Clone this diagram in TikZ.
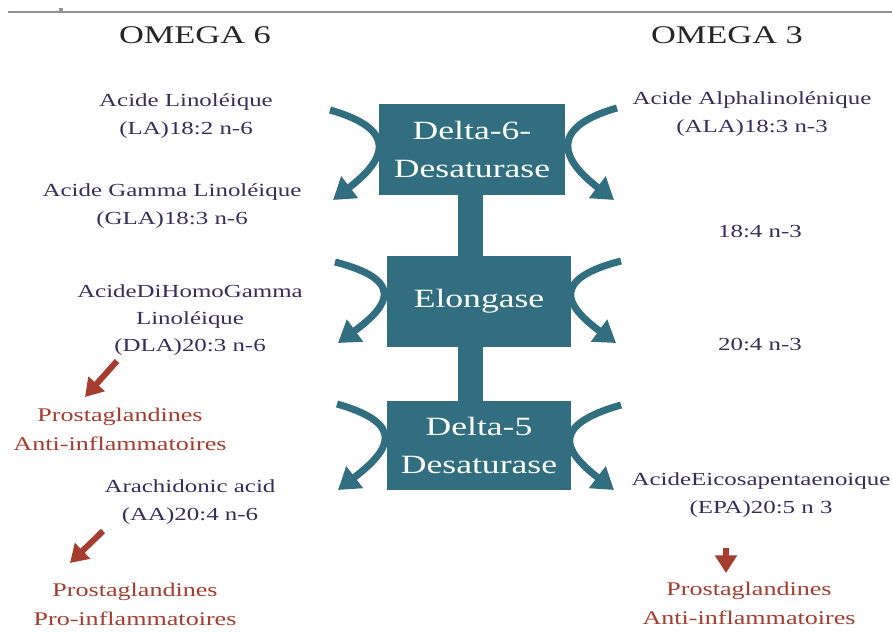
\documentclass[tikz,border=0pt]{standalone}
\usepackage{fontspec}
\setmainfont[FakeStretch=1.35]{Liberation Serif}
\usepackage{xcolor}
\usepackage{tikz}
\usetikzlibrary{arrows.meta}
\definecolor{enzteal}{RGB}{48,110,128}
\definecolor{acidink}{RGB}{55,45,90}
\definecolor{pgred}{RGB}{165,60,45}
\definecolor{rulegray}{RGB}{150,145,145}

\begin{document}
\begin{tikzpicture}[x=0.02cm, y=-0.02cm,
  enzyme/.style={fill=enzteal, text=white, inner sep=0pt, align=center, font=\fontsize{15}{22}\selectfont},
  acid/.style={text=acidink, align=center, font=\fontsize{10.5}{15.5}\selectfont},
  prosta/.style={text=pgred, align=center, font=\fontsize{11}{16.5}\selectfont},
  omega/.style={text=black!85, font=\fontsize{14.5}{17}\selectfont},
  flow/.style={enzteal, line width=4pt, -{Triangle[length=12pt, width=15pt]}},
  toward/.style={pgred, line width=3.4pt, -{Triangle[length=10pt, width=12pt]}},
  stem/.style={enzteal, line width=0.5cm}]
\useasboundingbox (0,0) rectangle (892,644);
\draw[rulegray, line width=1.2pt] (8,12) -- (892,12);
\draw[rulegray, line width=2pt] (61,8) -- (61,12);

\node[omega] (om6) at (195,35) {OMEGA 6};
\node[omega] (om3) at (727,35) {OMEGA 3};

\node[enzyme, minimum width=3.72cm, minimum height=1.82cm] (d6) at (472,149.5) {Delta-6-\\Desaturase};
\node[enzyme, minimum width=3.68cm, minimum height=1.82cm] (elong) at (479,301.5) {Elongase};
\node[enzyme, minimum width=3.68cm, minimum height=1.78cm] (d5) at (479,445.5) {Delta-5\\Desaturase};
\draw[stem] ([xshift=-0.03cm]d6.south) -- ([xshift=-0.03cm]d6.south |- elong.north);
\draw[stem] ([xshift=-0.03cm]d6.south |- elong.south) -- ([xshift=-0.03cm]d6.south |- d5.north);

\node[acid] (la) at (186,116) {Acide Linoléique\\(LA)18:2 n-6};
\node[acid] (gla) at (172,206) {Acide Gamma Linoléique\\(GLA)18:3 n-6};
\node[acid] (dla) at (190,320) {AcideDiHomoGamma\\Linoléique\\(DLA)20:3 n-6};
\node[prosta] (pga) at (120,429) {Prostaglandines\\Anti-inflammatoires};
\node[acid] (aa) at (190,502) {Arachidonic acid\\(AA)20:4 n-6};
\node[prosta] (pgp) at (135,604) {Prostaglandines\\Pro-inflammatoires};

\node[acid] (ala) at (752,114) {Acide Alphalinolénique\\(ALA)18:3 n-3};
\node[acid] (sda) at (760,232) {18:4 n-3};
\node[acid] (eta) at (760,345) {20:4 n-3};
\node[acid] (epa) at (761,495) {AcideEicosapentaenoique\\(EPA)20:5 n 3};
\node[prosta] (pge) at (749,603) {Prostaglandines\\Anti-inflammatoires};

\coordinate (la-in) at (330,110);
\coordinate (gla-out) at (333,200);
\coordinate (ala-in) at (617,108);
\coordinate (sda-out) at (614,200);
\coordinate (gla-in) at (335,262);
\coordinate (dla-out) at (338,343);
\coordinate (sda-in) at (621,261);
\coordinate (eta-out) at (616,343);
\coordinate (dla-in) at (337,404);
\coordinate (aa-out) at (338,490);
\coordinate (eta-in) at (621,405);
\coordinate (epa-out) at (614,490);

\draw[flow] (la-in) .. controls +(70,20) and +(52,-40) .. (gla-out);
\draw[flow] (ala-in) .. controls +(-70,20) and +(-52,-40) .. (sda-out);
\draw[flow] (gla-in) .. controls +(70,18) and +(52,-38) .. (dla-out);
\draw[flow] (sda-in) .. controls +(-70,18) and +(-52,-38) .. (eta-out);
\draw[flow] (dla-in) .. controls +(70,20) and +(52,-40) .. (aa-out);
\draw[flow] (eta-in) .. controls +(-70,20) and +(-52,-40) .. (epa-out);

\coordinate (dla-tail) at (117,361);
\coordinate (pga-tip) at (85,397);
\coordinate (aa-tail) at (103,531);
\coordinate (pgp-tip) at (70,563);
\coordinate (epa-tail) at (726,548);
\coordinate (pge-tip) at (726,573);
\draw[toward] (dla-tail) -- (pga-tip);
\draw[toward] (aa-tail) -- (pgp-tip);
\draw[toward] (epa-tail) -- (pge-tip);
\end{tikzpicture}
\end{document}
